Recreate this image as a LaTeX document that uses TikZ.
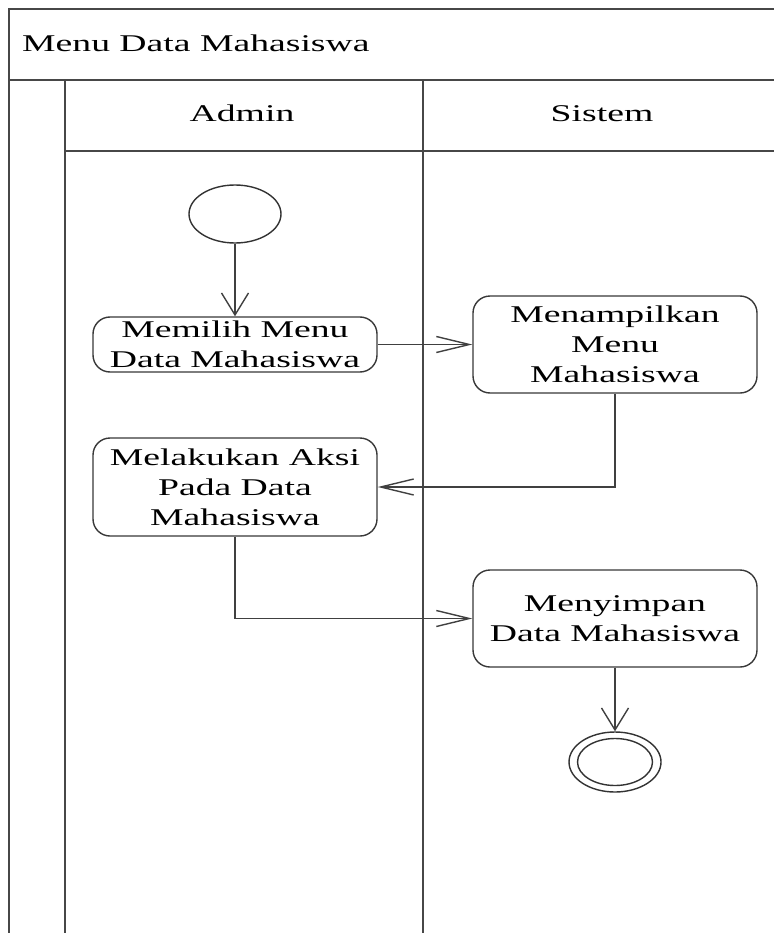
\documentclass[tikz,border=0pt]{standalone}
\usepackage{fontspec}
\setmainfont{Liberation Serif}[FakeStretch=1.57]
\usetikzlibrary{arrows.meta,shapes.geometric}
\begin{document}
\begin{tikzpicture}[x=1pt,y=-1pt,
  frame/.style={draw=black!72,line width=2.2pt},
  lbl/.style={font=\fontsize{24}{30}\selectfont,inner sep=0pt},
  act/.style={draw=black!78,line width=1.4pt,rounded corners=17pt,
    minimum width=284pt,align=center,inner sep=0pt,fill=white,
    font=\fontsize{24}{30}\selectfont},
  flow/.style={draw=black!75,line width=1.4pt},
  toh/.style={flow,-{Straight Barb[length=33pt,width=16pt]}},
  tov/.style={flow,-{Straight Barb[length=22pt,width=27pt]}},
  state/.style={draw=black!80,line width=1.4pt,ellipse,inner sep=0pt,fill=white}
]
\useasboundingbox (0,0) rectangle (773,933);

% swimlane frame
\draw[frame] (9,933) -- (9,9) -- (780,9);
\draw[frame] (9,80) -- (780,80);
\draw[frame] (65,151) -- (780,151);
\draw[frame] (65,80) -- (65,940);
\draw[frame] (423,80) -- (423,940);

\node[lbl,anchor=base west] (title) at (22,52) {Menu Data Mahasiswa};
\node[lbl,anchor=base] (admin) at (242,122) {Admin};
\node[lbl,anchor=base] (sistem) at (602,122) {Sistem};

% activities
\node[state,minimum width=92pt,minimum height=58pt] (start) at (235,214) {};
\node[act,minimum height=55pt] (a1) at (235,344.5) {Memilih Menu\\Data Mahasiswa};
\node[act,minimum height=97pt] (a2) at (615,344.5) {Menampilkan\\Menu\\Mahasiswa};
\node[act,minimum height=98pt] (a3) at (235,487) {Melakukan Aksi\\Pada Data\\Mahasiswa};
\node[act,minimum height=97pt] (a4) at (615,618.5) {Menyimpan\\Data Mahasiswa};
\node[state,minimum width=92pt,minimum height=60pt] (stop) at (615,762) {};
\node[state,minimum width=75pt,minimum height=47pt] (stopin) at (615,762) {};

% flows
\draw[tov] (start) -- (a1);
\draw[toh] (a1) -- (a2);
\draw[toh] (a2.south) |- (a3.east);
\draw[toh] (a3.south) |- (a4.west);
\draw[tov] (a4) -- (stop);
\end{tikzpicture}
\end{document}
